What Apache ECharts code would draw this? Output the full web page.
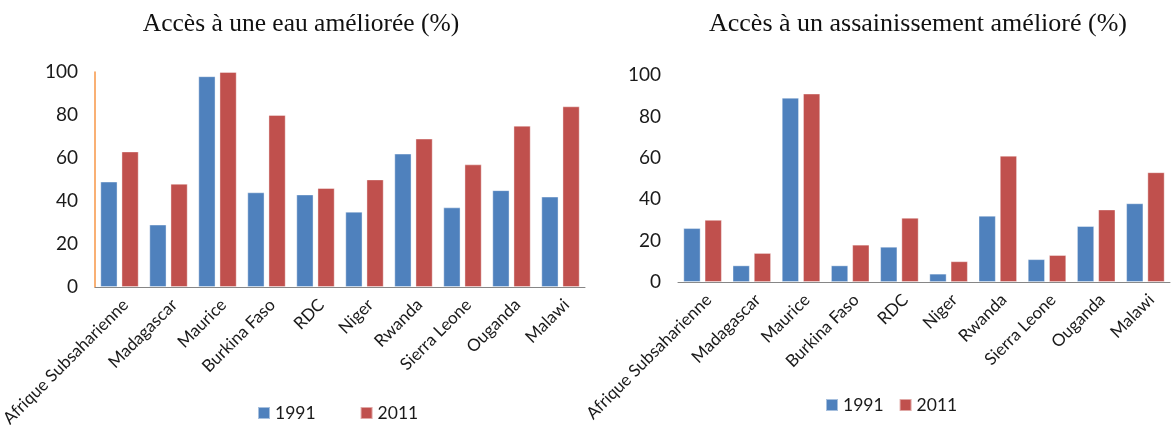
<!DOCTYPE html>
<html>
<head>
<meta charset="utf-8">
<script src="https://cdn.jsdelivr.net/npm/echarts@6/dist/echarts.min.js"></script>
<style>
  html, body { margin: 0; padding: 0; background: #fff; }
  #main { width: 1175px; height: 425px; }
</style>
</head>
<body>
<div id="main"></div>
<script>
var pays = ['Afrique Subsaharienne', 'Madagascar', 'Maurice', 'Burkina Faso', 'RDC', 'Niger', 'Rwanda', 'Sierra Leone', 'Ouganda', 'Malawi'];
var annees = ['1991', '2011'];
var yTicks = [0, 20, 40, 60, 80, 100];

// Accès à une eau améliorée (%)
var eau1991 = [49, 29, 98, 44, 43, 35, 62, 37, 45, 42];
var eau2011 = [63, 48, 100, 80, 46, 50, 69, 57, 75, 84];

// Accès à un assainissement amélioré (%)
var assain1991 = [26, 8, 89, 8, 17, 4, 32, 11, 27, 38];
var assain2011 = [30, 14, 91, 18, 31, 10, 61, 13, 35, 53];

var bleu = '#4F81BD';
var rouge = '#C0504D';
var police = 'Lato, "Open Sans", sans-serif';
var serif = '"Liberation Serif", "Times New Roman", serif';

var myChart = echarts.init(document.getElementById('main'));

function axeX(idx) {
    return {
        type: 'category',
        gridIndex: idx,
        data: pays,
        axisLine: { lineStyle: { color: '#868686', width: 1 } },
        axisTick: { show: false },
        axisLabel: {
            rotate: 45,
            interval: 0,
            margin: 9,
            verticalAlign: 'top',
            color: '#1a1a1a',
            fontFamily: police,
            fontSize: 17
        }
    };
}

function axeY(idx, avecLigne) {
    return {
        type: 'value',
        gridIndex: idx,
        min: yTicks[0],
        max: yTicks[yTicks.length - 1],
        interval: 20,
        splitLine: { show: false },
        axisTick: { show: false },
        axisLine: { show: avecLigne, lineStyle: { color: '#F79646', width: 1.5 } },
        axisLabel: {
            margin: 17,
            color: '#1a1a1a',
            fontFamily: police,
            fontSize: 19
        }
    };
}

function barres(nom, donnees, couleur, idx) {
    return {
        name: nom,
        type: 'bar',
        xAxisIndex: idx,
        yAxisIndex: idx,
        data: donnees,
        barGap: '24%',
        barCategoryGap: '22%',
        itemStyle: { color: couleur, borderColor: 'rgba(255,255,255,0.5)', borderWidth: 0.8 }
    };
}

var option = {
    animation: false,
    backgroundColor: '#fff',
    title: [
        {
            text: 'Accès à une eau améliorée (%)',
            left: 296,
            top: 6,
            textAlign: 'center',
            textStyle: { fontFamily: serif, fontWeight: 'normal', fontSize: 25.5, color: '#111' }
        },
        {
            text: 'Accès à un assainissement amélioré (%)',
            left: 913,
            top: 6,
            textAlign: 'center',
            textStyle: { fontFamily: serif, fontWeight: 'normal', fontSize: 26, color: '#111' }
        }
    ],
    legend: [
        {
            data: annees,
            left: 252,
            top: 399,
            itemWidth: 12,
            itemHeight: 12,
            itemGap: 44,
            icon: 'rect',
            textStyle: { fontFamily: police, fontSize: 17.5, color: '#1a1a1a' }
        },
        {
            data: annees,
            left: 820,
            top: 391,
            itemWidth: 12,
            itemHeight: 12,
            itemGap: 15,
            icon: 'rect',
            textStyle: { fontFamily: police, fontSize: 17.5, color: '#1a1a1a' }
        }
    ],
    grid: [
        { left: 95, right: 590, top: 72, bottom: 138, outerBoundsMode: 'none', containLabel: false },
        { left: 678, right: 5, top: 75, bottom: 143, outerBoundsMode: 'none', containLabel: false }
    ],
    xAxis: [axeX(0), axeX(1)],
    yAxis: [axeY(0, true), axeY(1, false)],
    series: [
        barres(annees[0], eau1991, bleu, 0),
        barres(annees[1], eau2011, rouge, 0),
        barres(annees[0], assain1991, bleu, 1),
        barres(annees[1], assain2011, rouge, 1)
    ]
};

myChart.setOption(option);
</script>
</body>
</html>
